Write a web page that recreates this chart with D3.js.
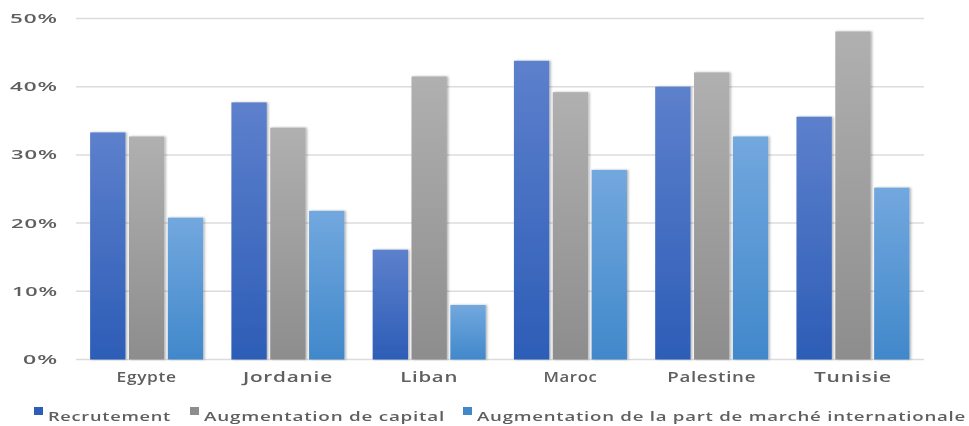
<!DOCTYPE html>
<html><head><meta charset="utf-8">
<script src="https://cdn.jsdelivr.net/npm/d3@7"></script>
<style>
html,body{margin:0;padding:0;background:#fff;}
svg{display:block;}
text{font-family:"Open Sans","DejaVu Sans",sans-serif;fill:#5e5e5e;}
</style></head><body>
<svg id="chart" width="969" height="426"></svg>
<script>
const categories = ["Egypte","Jordanie","Liban","Maroc","Palestine","Tunisie"];
const seriesNames = ["Recrutement","Augmentation de capital","Augmentation de la part de marché internationale"];
const recrutement = [33.3, 37.7, 16.1, 43.8, 40.0, 35.6];
const capital = [32.7, 34.0, 41.5, 39.2, 42.1, 48.1];
const partMarche = [20.8, 21.8, 8.0, 27.8, 32.7, 25.2];
const yTicks = [0, 10, 20, 30, 40, 50];
const yTickLabels = ["0%","10%","20%","30%","40%","50%"];

const seriesValues = [recrutement, capital, partMarche];
const gradStops = [["#5d80cc","#2d5db7"],["#b0b0b0","#8d8d8d"],["#72a8de","#4188cb"]];

const svg = d3.select("#chart");
const defs = svg.append("defs");
gradStops.forEach((g,i)=>{
  const lg = defs.append("linearGradient").attr("id","g"+i).attr("x1",0).attr("x2",0).attr("y1",0).attr("y2",1);
  lg.append("stop").attr("offset","0%").attr("stop-color",g[0]);
  lg.append("stop").attr("offset","100%").attr("stop-color",g[1]);
});
const f = defs.append("filter").attr("id","sh").attr("x","-20%").attr("y","-5%").attr("width","150%").attr("height","110%");
f.append("feDropShadow").attr("dx",1.5).attr("dy",0).attr("stdDeviation",1).attr("flood-color","#000").attr("flood-opacity",0.3);
const blur = defs.append("filter").attr("id","soft");
blur.append("feGaussianBlur").attr("stdDeviation",0.45);

const x0 = d3.scaleBand().domain(categories).range([76, 923.6]).paddingInner(0.2).paddingOuter(0.1);
const x1 = d3.scaleBand().domain(d3.range(3)).range([0, x0.bandwidth()]).paddingInner(0.09);
const y = d3.scaleLinear().domain([0,50]).range([359.5, 18.5]);

// gridlines
svg.append("g").selectAll("line").data(yTicks).join("line")
  .attr("x1",76).attr("x2",924).attr("y1",d=>y(d)).attr("y2",d=>y(d))
  .attr("stroke","#dcdcdc").attr("stroke-width",1.5);

// y labels
const yLabW = [35, 46, 47, 47, 48, 48];
svg.append("g").attr("filter","url(#soft)").selectAll("text").data(yTicks).join("text")
  .attr("x",(d,i)=>58-yLabW[i]).attr("y",d=>y(d)).attr("dy","0.38em")
  .style("font-size","12px").style("font-weight","600").style("letter-spacing","0.5px")
  .attr("textLength",(d,i)=>yLabW[i]).attr("lengthAdjust","spacingAndGlyphs")
  .text((d,i)=>yTickLabels[i]);

// bars
const groups = svg.append("g").selectAll("g").data(categories).join("g")
  .attr("transform",d=>`translate(${x0(d)},0)`);
groups.selectAll("rect").data((c,ci)=>seriesValues.map((s,si)=>({si,v:s[ci]}))).join("rect")
  .attr("x",d=>x1(d.si)).attr("width",x1.bandwidth())
  .attr("y",d=>y(d.v)).attr("height",d=>y(0)-y(d.v))
  .attr("fill",d=>`url(#g${d.si})`).attr("filter","url(#sh)");

// category labels
const catW = [60, 90, 58, 54, 89, 78];
svg.append("g").attr("filter","url(#soft)").selectAll("text").data(categories).join("text")
  .attr("x",(d,i)=>x0(d)+x0.bandwidth()/2-catW[i]/2).attr("y",382)
  .style("font-size","13.5px").style("font-weight","600").style("letter-spacing","0.5px")
  .attr("textLength",(d,i)=>catW[i]).attr("lengthAdjust","spacingAndGlyphs")
  .text(d=>d);

// legend
const legX = [34, 190, 463];
const legW = [123, 241, 489];
const leg = svg.append("g").selectAll("g").data(seriesNames).join("g");
leg.append("rect").attr("x",(d,i)=>legX[i]).attr("y",407).attr("width",9).attr("height",8)
  .attr("fill",(d,i)=>gradStops[i][1]);
leg.append("text").attr("x",(d,i)=>legX[i]+14).attr("y",421).attr("filter","url(#soft)")
  .style("font-size","12.5px").style("font-weight","600").style("letter-spacing","0.5px")
  .attr("textLength",(d,i)=>legW[i]).attr("lengthAdjust","spacingAndGlyphs")
  .text(d=>d);
</script>
</body></html>
